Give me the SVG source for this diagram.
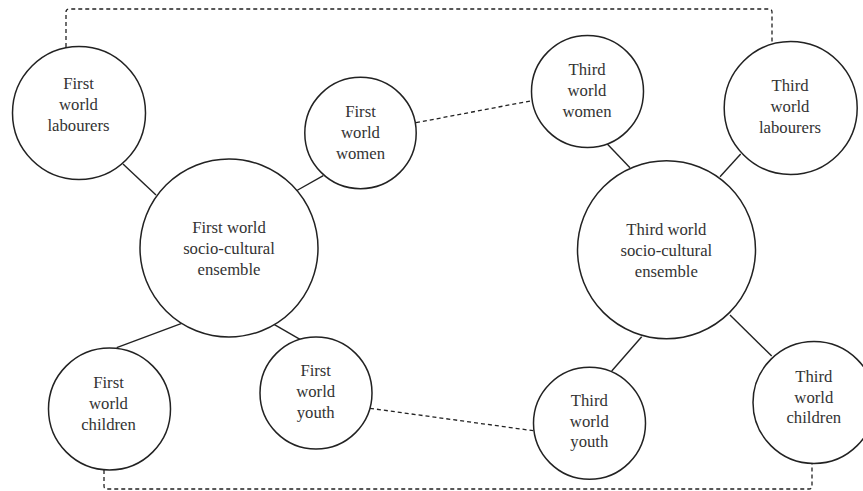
<svg xmlns="http://www.w3.org/2000/svg" width="863" height="491" viewBox="0 0 863 491">
<style>
.n{fill:#fff;stroke:#222;stroke-width:1.5}
.t{font-family:"Liberation Serif","Times New Roman",serif;font-size:16.7px;fill:#333;text-anchor:middle}
.s{stroke:#222;stroke-width:1.4;fill:none}
.d{stroke:#222;stroke-width:1.3;fill:none;stroke-dasharray:4 3}
</style>
<rect width="863" height="491" fill="#fff"/>
<g id="connectors">
<path class="d" d="M66,47 V12 Q66,9 69,9 H769 Q772,9 772,12 V42"/>
<path class="d" d="M104,470 V486 Q104,489 107,489 H809 Q812,489 812,486 V463"/>
<line class="d" x1="416" y1="122.7" x2="531.7" y2="100.7"/>
<line class="d" x1="370" y1="408.3" x2="533.3" y2="430.7"/>
<line class="s" x1="123" y1="164" x2="156" y2="195"/>
<line class="s" x1="296" y1="191" x2="323.3" y2="175.7"/>
<line class="s" x1="181.7" y1="323.3" x2="116.7" y2="347.7"/>
<line class="s" x1="274" y1="324.3" x2="300" y2="339.3"/>
<line class="s" x1="607.3" y1="144" x2="630" y2="167.7"/>
<line class="s" x1="740.7" y1="154" x2="720" y2="176.7"/>
<line class="s" x1="641.7" y1="336.7" x2="611.7" y2="371"/>
<line class="s" x1="730" y1="315" x2="771.7" y2="356"/>
</g>
<g id="fw-labourers">
<circle class="n" cx="79" cy="113" r="66.5"/>
<text class="t" x="78.5" y="89.3">First</text>
<text class="t" x="78.5" y="110">world</text>
<text class="t" x="78.5" y="130.7">labourers</text>
</g>
<g id="fw-women">
<circle class="n" cx="360.5" cy="133" r="55.7"/>
<text class="t" x="360.5" y="117">First</text>
<text class="t" x="360.5" y="138">world</text>
<text class="t" x="360.5" y="159">women</text>
</g>
<g id="fw-ensemble">
<circle class="n" cx="229" cy="248" r="89"/>
<text class="t" x="229" y="233.3">First world</text>
<text class="t" x="229" y="254">socio-cultural</text>
<text class="t" x="229" y="275">ensemble</text>
</g>
<g id="fw-children">
<circle class="n" cx="109.5" cy="409" r="61"/>
<text class="t" x="108.5" y="388.3">First</text>
<text class="t" x="108.5" y="409.3">world</text>
<text class="t" x="108.5" y="430">children</text>
</g>
<g id="fw-youth">
<circle class="n" cx="316" cy="393" r="56"/>
<text class="t" x="315.7" y="376">First</text>
<text class="t" x="315.7" y="396.7">world</text>
<text class="t" x="315.7" y="417.5">youth</text>
</g>
<g id="tw-women">
<circle class="n" cx="587.5" cy="91.5" r="56"/>
<text class="t" x="587" y="75">Third</text>
<text class="t" x="587" y="96">world</text>
<text class="t" x="587" y="116.7">women</text>
</g>
<g id="tw-labourers">
<circle class="n" cx="790.7" cy="108" r="66.5"/>
<text class="t" x="790" y="90.7">Third</text>
<text class="t" x="790" y="111.7">world</text>
<text class="t" x="790" y="132.7">labourers</text>
</g>
<g id="tw-ensemble">
<circle class="n" cx="666.5" cy="249.7" r="89"/>
<text class="t" x="666.3" y="235">Third world</text>
<text class="t" x="666.3" y="256">socio-cultural</text>
<text class="t" x="666.3" y="276.7">ensemble</text>
</g>
<g id="tw-youth">
<circle class="n" cx="589.5" cy="423.3" r="56"/>
<text class="t" x="589.3" y="406">Third</text>
<text class="t" x="589.3" y="426.7">world</text>
<text class="t" x="589.3" y="446.5">youth</text>
</g>
<g id="tw-children">
<circle class="n" cx="814" cy="402.5" r="61"/>
<text class="t" x="813.8" y="381.7">Third</text>
<text class="t" x="813.8" y="402.7">world</text>
<text class="t" x="813.8" y="423.3">children</text>
</g>
</svg>
